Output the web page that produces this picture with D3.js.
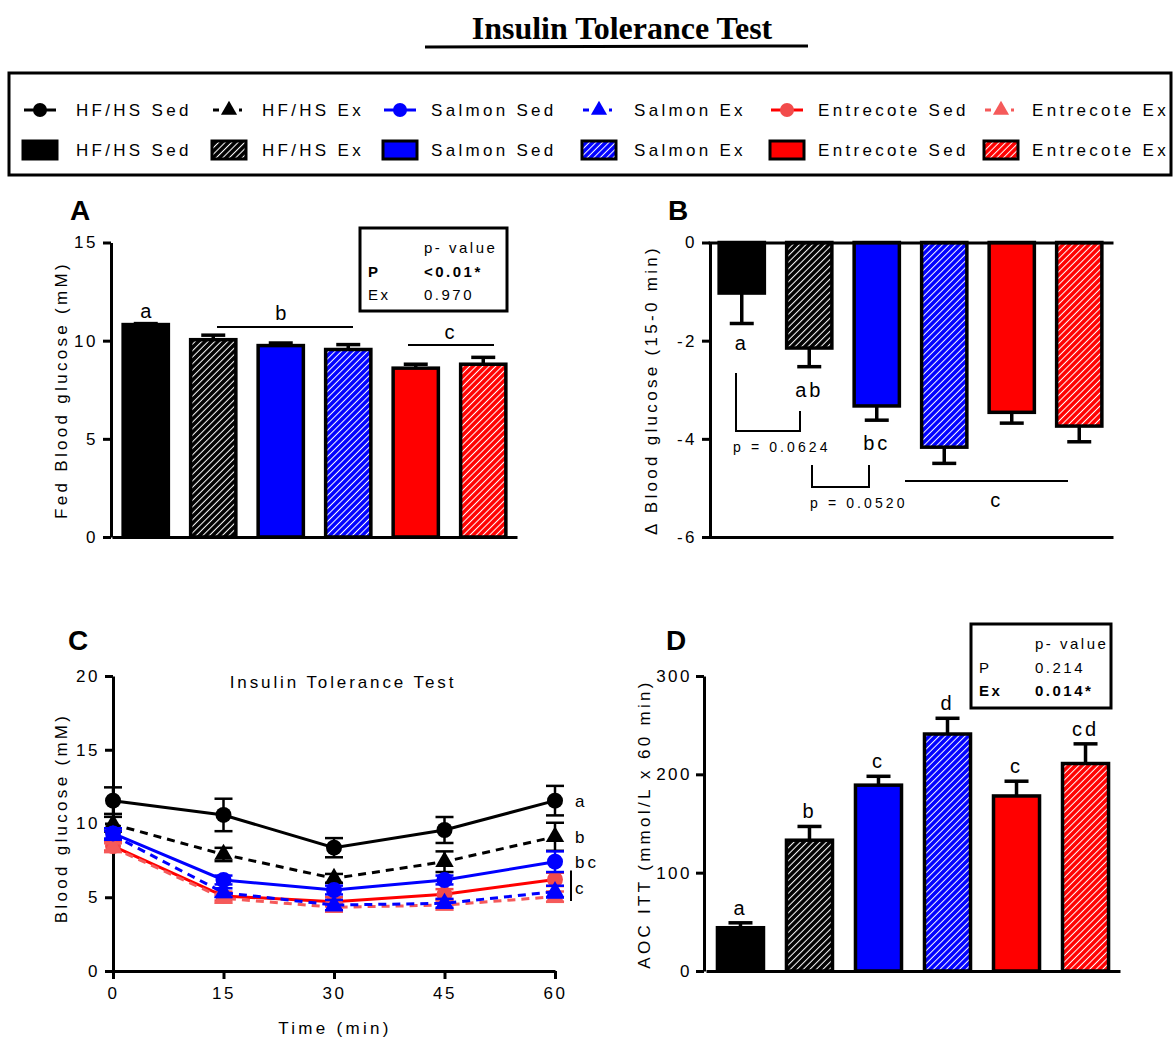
<!DOCTYPE html>
<html>
<head>
<meta charset="utf-8">
<script src="https://cdn.jsdelivr.net/npm/d3@7"></script>
<style>
body { margin: 0; background: #fff; }
text { font-family: Arial, "Liberation Sans", sans-serif; fill: #000; }
</style>
</head>
<body>
<svg id="chart" width="1176" height="1039"></svg>
<script>
// groups and styles
const groups = ['HF/HS Sed', 'HF/HS Ex', 'Salmon Sed', 'Salmon Ex', 'Entrecote Sed', 'Entrecote Ex']
const barFills = ['#000', 'url(#hatch-black)', '#0000ff', 'url(#hatch-blue)', '#ff0000', 'url(#hatch-red)']
const lineColors = ['#000', '#000', '#0000ff', '#0000ff', '#ff0000', '#f55a5a']
const markerColors = ['#000', '#000', '#0000ff', '#0000ff', '#f24b4b', '#f55a5a']
const markerShapes = ['circle', 'triangle', 'circle', 'triangle', 'circle', 'triangle']
const dashed = [false, true, false, true, false, true]

// A: fed blood glucose
const fedMean = [10.82, 10.05, 9.75, 9.55, 8.6, 8.8]
const fedSem = [0.05, 0.23, 0.13, 0.25, 0.2, 0.35]
const fedPvals = [['', 'p- value'], ['P', '<0.01*'], ['Ex', '0.970']]

// B: delta blood glucose 15-0 min
const deltaMean = [-1.03, -2.15, -3.33, -4.17, -3.46, -3.74]
const deltaSem = [0.62, 0.38, 0.29, 0.33, 0.22, 0.32]

// C: ITT curves
const times = [0, 15, 30, 45, 60]
const ittHfSed = [11.55, 10.58, 8.36, 9.56, 11.55]
const ittHfSedSem = [0.9, 1.1, 0.65, 0.88, 1.0]
const ittHfEx = [9.95, 7.9, 6.28, 7.41, 9.1]
const ittHfExSem = [0.5, 0.45, 0.3, 0.7, 0.95]
const ittSalSed = [9.33, 6.17, 5.49, 6.17, 7.41]
const ittSalSedSem = [0.35, 0.3, 0.3, 0.3, 0.7]
const ittSalEx = [9.2, 5.31, 4.47, 4.59, 5.38]
const ittSalExSem = [0.3, 0.3, 0.35, 0.3, 0.4]
const ittEntSed = [8.47, 5.08, 4.7, 5.2, 6.21]
const ittEntSedSem = [0.3, 0.3, 0.3, 0.35, 0.45]
const ittEntEx = [8.36, 4.93, 4.32, 4.47, 5.04]
const ittEntExSem = [0.3, 0.3, 0.3, 0.3, 0.35]

// D: area of the curve
const aocMean = [44, 133, 189, 241, 178, 211]
const aocSem = [5, 14, 9, 16, 15, 20]
const aocLetters = ['a', 'b', 'c', 'd', 'c', 'cd']
const aocPvals = [['', 'p- value'], ['P', '0.214'], ['Ex', '0.014*']]

const svg = d3.select('#chart')

// hatch patterns
const defs = svg.append('defs')
const hatchColors = { black: '#000', blue: '#0000ff', red: '#ff0000' }
Object.entries(hatchColors).forEach(([name, col]) => {
    const p = defs.append('pattern')
        .attr('id', 'hatch-' + name)
        .attr('patternUnits', 'userSpaceOnUse')
        .attr('width', 4.6).attr('height', 4.6)
        .attr('patternTransform', 'rotate(45)')
    p.append('rect').attr('width', 4.6).attr('height', 4.6).attr('fill', col)
    p.append('line').attr('x1', 2.3).attr('x2', 2.3).attr('y1', 0).attr('y2', 4.6)
        .attr('stroke', '#fff').attr('stroke-width', 1.05)
})

// title
svg.append('text')
    .attr('x', 622).attr('y', 39)
    .attr('text-anchor', 'middle')
    .style('font-family', '"Liberation Serif", "Times New Roman", serif')
    .style('font-weight', 'bold')
    .style('font-size', '32px')
    .text('Insulin Tolerance Test')
svg.append('line').attr('x1', 425).attr('x2', 808).attr('y1', 47).attr('y2', 46)
    .attr('stroke', '#000').attr('stroke-width', 3)

// legend
svg.append('rect').attr('x', 9).attr('y', 73).attr('width', 1162).attr('height', 102)
    .attr('fill', 'none').attr('stroke', '#000').attr('stroke-width', 3)
const legSymX = [40, 229, 400, 599, 787, 1001]
const legTextX = [76, 262, 431, 634, 818, 1032]

function drawMarker(g, shape, x, y, color, size) {
    if (shape === 'circle') {
        g.append('circle').attr('cx', x).attr('cy', y).attr('r', size).attr('fill', color)
    } else {
        g.append('path')
            .attr('d', d3.symbol(d3.symbolTriangle).size(size * size * 2.3)())
            .attr('transform', `translate(${x},${y})`)
            .attr('fill', color)
    }
}

const leg = svg.append('g')
groups.forEach((name, i) => {
    const cx = legSymX[i]
    leg.append('line').attr('x1', cx - 16).attr('x2', cx + 16).attr('y1', 110).attr('y2', 110)
        .attr('stroke', lineColors[i]).attr('stroke-width', 3)
        .attr('stroke-dasharray', dashed[i] ? '6,20,3' : null)
    drawMarker(leg, markerShapes[i], cx, 110, markerColors[i], 7)
    leg.append('text').attr('x', legTextX[i]).attr('y', 116)
        .style('font-size', '17px').style('letter-spacing', '3.3px').text(name)
    leg.append('rect').attr('x', cx - 17).attr('y', 141).attr('width', 34).attr('height', 18)
        .attr('fill', barFills[i]).attr('stroke', '#000').attr('stroke-width', 3)
    leg.append('text').attr('x', legTextX[i]).attr('y', 156)
        .style('font-size', '17px').style('letter-spacing', '3.3px').text(name)
})

function styleAxis(g) {
    g.select('.domain').attr('stroke-width', 3)
    g.selectAll('.tick line').attr('stroke-width', 3)
    g.selectAll('.tick text')
        .style('font-size', '17px')
        .style('letter-spacing', '2.5px')
        .style('font-family', 'Arial, "Liberation Sans", sans-serif')
}

function yLabel(x, y, label) {
    svg.append('text')
        .attr('transform', `translate(${x},${y}) rotate(-90)`)
        .attr('text-anchor', 'middle')
        .style('font-size', '17px')
        .style('letter-spacing', '3.3px')
        .text(label)
}

function panelLetter(x, y, l) {
    svg.append('text').attr('x', x).attr('y', y)
        .style('font-size', '28px').style('font-weight', 'bold').text(l)
}

function pBox(x, y, w, h, rows, boldRow) {
    svg.append('rect').attr('x', x).attr('y', y).attr('width', w).attr('height', h)
        .attr('fill', '#fff').attr('stroke', '#000').attr('stroke-width', 3)
    rows.forEach((r, i) => {
        const ty = y + 25 + i * 23.5
        const bold = i === boldRow
        svg.append('text').attr('x', x + 8).attr('y', ty)
            .style('font-size', '15px').style('letter-spacing', '2.5px')
            .style('font-weight', bold ? 'bold' : 'normal').text(r[0])
        svg.append('text').attr('x', x + 64).attr('y', ty)
            .style('font-size', '15px').style('letter-spacing', '2.5px')
            .style('font-weight', bold ? 'bold' : 'normal').text(r[1])
    })
}

function drawBars(g, x, y, means, sems, base) {
    // error bars first, bar on top
    means.forEach((m, i) => {
        const cx = x(groups[i]) + x.bandwidth() / 2
        const tip = m < 0 ? m - sems[i] : m + sems[i]
        g.append('line').attr('x1', cx).attr('x2', cx).attr('y1', y(m)).attr('y2', y(tip))
            .attr('stroke', '#000').attr('stroke-width', 3.5)
        g.append('line').attr('x1', cx - 12).attr('x2', cx + 12).attr('y1', y(tip)).attr('y2', y(tip))
            .attr('stroke', '#000').attr('stroke-width', 3.5)
    })
    g.selectAll('.bar')
        .data(means)
        .join('rect')
            .attr('class', 'bar')
            .attr('x', (d, i) => x(groups[i]))
            .attr('width', x.bandwidth())
            .attr('y', d => Math.min(y(d), y(base)))
            .attr('height', d => Math.abs(y(d) - y(base)))
            .attr('fill', (d, i) => barFills[i])
            .attr('stroke', '#000')
            .attr('stroke-width', 3.5)
}

const plainFmt = d => String(d)

// ---------- Panel A ----------
const xA = d3.scaleBand().domain(groups).range([112, 517]).paddingInner(0.33).paddingOuter(0.165)
const yA = d3.scaleLinear().domain([0, 15]).range([537, 242.5])
const gA = svg.append('g')
drawBars(gA, xA, yA, fedMean, fedSem, 0)
svg.append('g').attr('transform', `translate(${xA.range()[0] - 1},0)`)
    .call(d3.axisLeft(yA).tickValues([0, 5, 10, 15]).tickFormat(plainFmt).tickSize(8).tickSizeOuter(0).tickPadding(5))
    .call(styleAxis)
svg.append('g').attr('transform', `translate(0,${yA(0)})`)
    .call(d3.axisBottom(xA).tickValues([]).tickSizeOuter(0))
    .call(styleAxis)
yLabel(67, 390, 'Fed Blood glucose (mM)')
panelLetter(70, 220, 'A')
const cA = i => xA(groups[i]) + xA.bandwidth() / 2
svg.append('text').attr('x', cA(0)).attr('y', yA(fedMean[0] + fedSem[0]) - 6)
    .attr('text-anchor', 'middle').style('font-size', '20px').text('a')
svg.append('line').attr('x1', 217).attr('x2', 353).attr('y1', 327).attr('y2', 327)
    .attr('stroke', '#000').attr('stroke-width', 2)
svg.append('text').attr('x', (cA(1) + cA(3)) / 2).attr('y', 320)
    .attr('text-anchor', 'middle').style('font-size', '20px').text('b')
svg.append('line').attr('x1', 408).attr('x2', 494).attr('y1', 345).attr('y2', 345)
    .attr('stroke', '#000').attr('stroke-width', 2)
svg.append('text').attr('x', (cA(4) + cA(5)) / 2).attr('y', 339)
    .attr('text-anchor', 'middle').style('font-size', '20px').text('c')
pBox(360, 228, 147, 83, fedPvals, 1)

// ---------- Panel B ----------
const xB = d3.scaleBand().domain(groups).range([708, 1113]).paddingInner(0.33).paddingOuter(0.165)
const yB = d3.scaleLinear().domain([-6, 0]).range([537, 242.5])
const gB = svg.append('g')
drawBars(gB, xB, yB, deltaMean, deltaSem, 0)
svg.append('g').attr('transform', `translate(${xB.range()[0] + 2},0)`)
    .call(d3.axisLeft(yB).tickValues([-6, -4, -2, 0]).tickFormat(plainFmt).tickSize(8).tickSizeOuter(0).tickPadding(5))
    .call(styleAxis)
svg.append('g').attr('transform', `translate(0,${yB(0)})`)
    .call(d3.axisTop(xB).tickValues([]).tickSizeOuter(0))
    .call(styleAxis)
svg.append('g').attr('transform', `translate(0,${yB(-6)})`)
    .call(d3.axisBottom(xB).tickValues([]).tickSizeOuter(0))
    .call(styleAxis)
yLabel(657, 390, '\u0394 Blood glucose (15-0 min)')
panelLetter(668, 220, 'B')
const cB = i => xB(groups[i]) + xB.bandwidth() / 2
const bText = (x, y, t) => svg.append('text').attr('x', x).attr('y', y)
    .attr('text-anchor', 'middle').style('font-size', '20px')
    .style('letter-spacing', '3px').text(t)
bText(cB(0), 350, 'a')
bText(cB(1), 397, 'ab')
bText(cB(2), 450, 'bc')
bText((cB(3) + cB(5)) / 2 - 15, 507, 'c')
svg.append('line').attr('x1', 905).attr('x2', 1068).attr('y1', 481).attr('y2', 481)
    .attr('stroke', '#000').attr('stroke-width', 2)
svg.append('path').attr('d', 'M736,373V431H800V411')
    .attr('fill', 'none').attr('stroke', '#000').attr('stroke-width', 2)
svg.append('path').attr('d', 'M812,465V487H869V465')
    .attr('fill', 'none').attr('stroke', '#000').attr('stroke-width', 2)
svg.append('text').attr('x', 733).attr('y', 452).style('font-size', '14px')
    .style('letter-spacing', '3.1px').text('p = 0.0624')
svg.append('text').attr('x', 810).attr('y', 508).style('font-size', '14px')
    .style('letter-spacing', '3.1px').text('p = 0.0520')

// ---------- Panel C ----------
const xC = d3.scaleLinear().domain([0, 60]).range([113, 555])
const yC = d3.scaleLinear().domain([0, 20]).range([971, 676])
svg.append('g').attr('transform', `translate(${xC(0)},0)`)
    .call(d3.axisLeft(yC).tickValues([0, 5, 10, 15, 20]).tickFormat(plainFmt).tickSize(8).tickSizeOuter(0).tickPadding(5))
    .call(styleAxis)
svg.append('g').attr('transform', `translate(0,${yC(0)})`)
    .call(d3.axisBottom(xC).tickValues(times).tickFormat(plainFmt).tickSize(8).tickSizeOuter(0).tickPadding(8))
    .call(styleAxis)
yLabel(67, 818, 'Blood glucose (mM)')
svg.append('text').attr('x', 335).attr('y', 1034).attr('text-anchor', 'middle')
    .style('font-size', '17px').style('letter-spacing', '3.3px').text('Time (min)')
svg.append('text').attr('x', 343).attr('y', 688).attr('text-anchor', 'middle')
    .style('font-size', '17px').style('letter-spacing', '2.9px').text('Insulin Tolerance Test')
panelLetter(68, 650, 'C')

const ittMeans = [ittHfSed, ittHfEx, ittSalSed, ittSalEx, ittEntSed, ittEntEx]
const ittSems = [ittHfSedSem, ittHfExSem, ittSalSedSem, ittSalExSem, ittEntSedSem, ittEntExSem]
const drawOrder = [0, 1, 4, 5, 2, 3]
const gC = svg.append('g')
const lineC = d3.line().x((d, i) => xC(times[i])).y(d => yC(d))
drawOrder.forEach(s => {
    const g = gC.append('g')
    ittMeans[s].forEach((m, i) => {
        const cx = xC(times[i])
        const lo = yC(m - ittSems[s][i]), hi = yC(m + ittSems[s][i])
        g.append('line').attr('x1', cx).attr('x2', cx).attr('y1', lo).attr('y2', hi)
            .attr('stroke', markerColors[s]).attr('stroke-width', 2.5)
        ;[lo, hi].forEach(v => g.append('line').attr('x1', cx - 9).attr('x2', cx + 9)
            .attr('y1', v).attr('y2', v).attr('stroke', markerColors[s]).attr('stroke-width', 2.5))
    })
    g.append('path').datum(ittMeans[s]).attr('d', lineC)
        .attr('fill', 'none').attr('stroke', lineColors[s]).attr('stroke-width', 3)
        .attr('stroke-dasharray', dashed[s] ? '8,6' : null)
    ittMeans[s].forEach((m, i) => drawMarker(g, markerShapes[s], xC(times[i]), yC(m), markerColors[s], 8))
})
const last = arr => arr[arr.length - 1]
const cText = (v, t) => svg.append('text').attr('x', 575).attr('y', yC(v) + 6)
    .style('font-size', '17px').style('letter-spacing', '3px').text(t)
cText(last(ittHfSed), 'a')
cText(last(ittHfEx), 'b')
cText(last(ittSalSed), 'bc')
cText((last(ittEntSed) + last(ittSalEx)) / 2 - 0.2, 'c')
svg.append('line').attr('x1', 571).attr('x2', 571)
    .attr('y1', yC(last(ittEntSed) + 0.6)).attr('y2', yC(last(ittEntEx) - 0.3))
    .attr('stroke', '#000').attr('stroke-width', 2)

// ---------- Panel D ----------
const xD = d3.scaleBand().domain(groups).range([706, 1120]).paddingInner(0.333).paddingOuter(0.166)
const yD = d3.scaleLinear().domain([0, 300]).range([971, 676])
const gD = svg.append('g')
drawBars(gD, xD, yD, aocMean, aocSem, 0)
svg.append('g').attr('transform', `translate(${xD.range()[0] - 2},0)`)
    .call(d3.axisLeft(yD).tickValues([0, 100, 200, 300]).tickFormat(plainFmt).tickSize(8).tickSizeOuter(0).tickPadding(4))
    .call(styleAxis)
svg.append('g').attr('transform', `translate(0,${yD(0)})`)
    .call(d3.axisBottom(xD).tickValues([]).tickSizeOuter(0))
    .call(styleAxis)
yLabel(650, 824, 'AOC ITT (mmol/L x 60 min)')
panelLetter(666, 650, 'D')
aocMean.forEach((m, i) => {
    svg.append('text').attr('x', xD(groups[i]) + xD.bandwidth() / 2)
        .attr('y', yD(m + aocSem[i]) - 8)
        .attr('text-anchor', 'middle').style('font-size', '20px').style('letter-spacing', '3px')
        .text(aocLetters[i])
})
pBox(971, 624, 140, 84, aocPvals, 2)
</script>
</body>
</html>
